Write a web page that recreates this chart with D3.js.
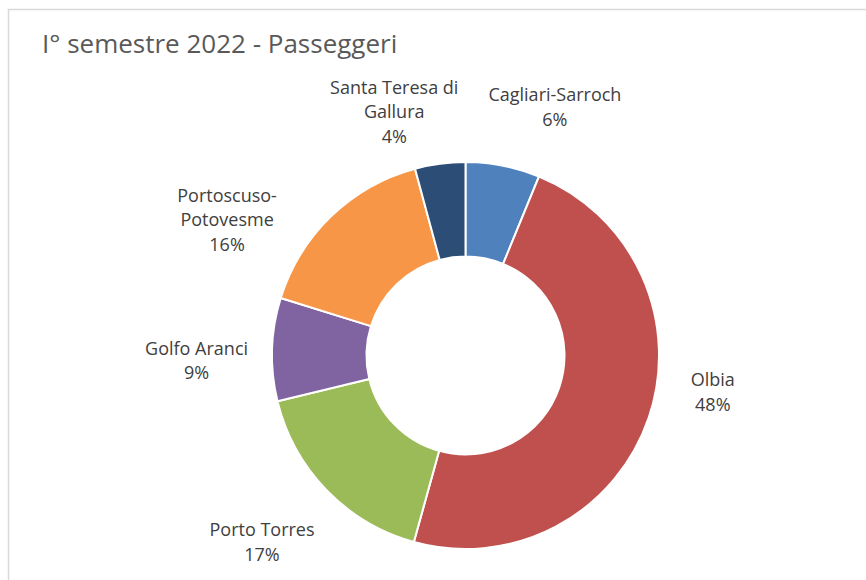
<!DOCTYPE html>
<html>
<head>
<meta charset="utf-8">
<script src="https://cdn.jsdelivr.net/npm/d3@7"></script>
<style>
  html, body { margin: 0; padding: 0; background: #fff; }
  svg { display: block; }
</style>
</head>
<body>
<svg id="chart" width="866" height="580"></svg>
<script>
// Passenger share by port, first half of 2022
const chartTitle = "I° semestre 2022 - Passeggeri";
const ports = ["Cagliari-Sarroch", "Olbia", "Porto Torres", "Golfo Aranci", "Portoscuso-Potovesme", "Santa Teresa di Gallura"];
const shares = [6.2, 48.1, 16.9, 8.6, 16.0, 4.2];
const labelLines = [["Cagliari-Sarroch"], ["Olbia"], ["Porto Torres"], ["Golfo Aranci"], ["Portoscuso-", "Potovesme"], ["Santa Teresa di", "Gallura"]];
const sliceColors = ["#4F81BD", "#C0504D", "#9BBB59", "#8064A2", "#F79646", "#2C4D75"];

// Label spots around the ring: [angle in degrees clockwise from top, distance from centre]
const labelSpots = [[19.8, 264], [98.4, 250], [227.5, 276], [268.9, 269], [299.7, 274.5], [343.7, 254]];

const W = 866, H = 580;
const cx = 465.5, cy = 355.5;
const outerR = 193.5, innerR = 99;
const lineH = 24.5, capH = 13;

const svg = d3.select("#chart");

// chart area frame
svg.append("rect")
  .attr("x", 8.5).attr("y", 9.5)
  .attr("width", W + 20).attr("height", H + 20)
  .attr("fill", "#fff")
  .attr("stroke", "#d9d9d9")
  .attr("stroke-width", 1.5);

svg.append("text")
  .attr("x", 42).attr("y", 53)
  .attr("font-family", "'Open Sans', sans-serif")
  .attr("font-size", 26)
  .attr("fill", "#595959")
  .text(chartTitle);

const pie = d3.pie().sort(null).value(d => d).startAngle(0).endAngle(2 * Math.PI);
const arcs = pie(shares);
const arc = d3.arc().innerRadius(innerR).outerRadius(outerR);
const color = d3.scaleOrdinal().domain(ports).range(sliceColors);
const total = d3.sum(shares);
const pct = d3.format(".0%");

const g = svg.append("g").attr("transform", `translate(${cx},${cy})`);

g.selectAll("path.slice")
  .data(arcs)
  .join("path")
  .attr("class", "slice")
  .attr("d", arc)
  .attr("fill", (d, i) => color(ports[i]))
  .attr("stroke", "#fff")
  .attr("stroke-width", 2)
  .attr("stroke-linejoin", "round");

// data labels: category name lines followed by the percentage
const labels = g.selectAll("text.lbl")
  .data(arcs)
  .join("text")
  .attr("class", "lbl")
  .attr("text-anchor", "middle")
  .attr("font-family", "'Open Sans', sans-serif")
  .attr("font-size", 18)
  .attr("fill", "#404040");

labels.each(function (d, i) {
  const lines = labelLines[i].concat([pct(d.value / total)]);
  const [ang, dist] = labelSpots[i];
  const a = ang * Math.PI / 180;
  const x = Math.sin(a) * dist;
  const y = -Math.cos(a) * dist;
  const blockH = capH + (lines.length - 1) * lineH;
  const firstBase = y - blockH / 2 + capH;
  const t = d3.select(this);
  lines.forEach((ln, k) => {
    t.append("tspan")
      .attr("x", x)
      .attr("y", firstBase + k * lineH)
      .text(ln);
  });
});
</script>
</body>
</html>
